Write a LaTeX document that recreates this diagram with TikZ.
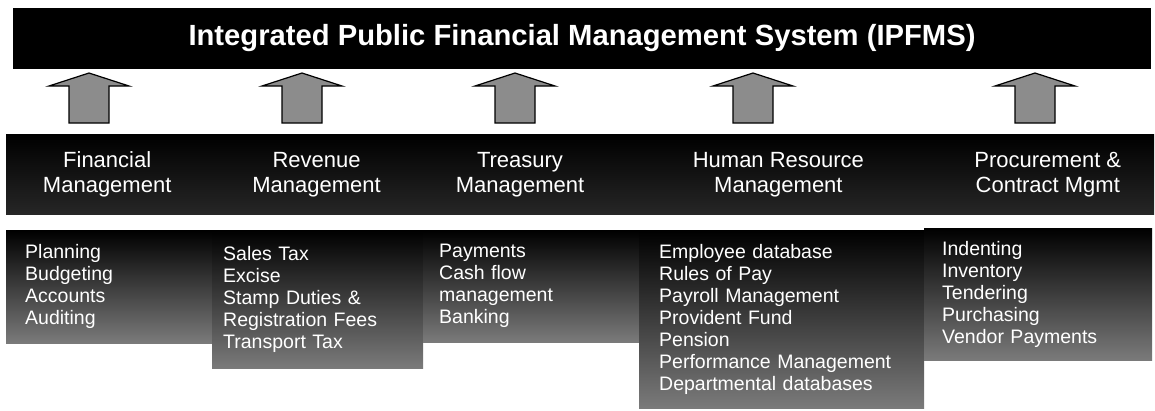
\documentclass[tikz,border=0pt]{standalone}
\usepackage{fontspec}
\setmainfont{Liberation Sans}
\usetikzlibrary{positioning,backgrounds}
\tikzset{
  titlebar/.style={rectangle, fill=black, text=white, inner sep=0pt,
                   font=\bfseries\fontsize{29.2bp}{32bp}\selectfont},
  catbox/.style={rectangle, text=white, align=center, minimum height=79bp, inner sep=0pt,
                 font=\fontsize{22bp}{25bp}\selectfont},
  band/.style={top color=black, bottom color=black!85},
  listbox/.style={rectangle, top color=black, bottom color=black!52, text=white,
                  align=left, anchor=north west, inner sep=0pt,
                  font=\fontsize{19.5bp}{22bp}\selectfont},
  uparrow/.style={draw=black, line width=1.2bp, fill=black!45, line join=miter}
}

\begin{document}
\begin{tikzpicture}[x=1bp,y=-1bp]
\useasboundingbox (0,0) rectangle (1155,410);
\node[titlebar, minimum width=1138bp, minimum height=61bp] (ipfms) at (582,38.5)
  {Integrated Public Financial Management System (IPFMS)};

\node[catbox, minimum width=202bp, anchor=west] (fin) at (6,174.5) {Financial\\Management};
\node[catbox, minimum width=216bp, right=0pt of fin] (rev) {Revenue\\Management};
\node[catbox, minimum width=190bp, right=0pt of rev] (tre) {Treasury\\Management};
\node[catbox, minimum width=326bp, right=0pt of tre] (hrm) {Human Resource\\Management};
\node[catbox, minimum width=212bp, right=0pt of hrm] (pcm) {Procurement \&\\Contract Mgmt};
\begin{scope}[on background layer]
  \path[band] (fin.north west) rectangle (pcm.south east);
\end{scope}

\foreach \x/\n in {89/fin,302/rev,515/tre,753/hrm,1035/pcm}
  \draw[uparrow] (\x,123) coordinate (arr-\n) ++(-20,0) -- ++(40,0) -- ++(0,-37) -- ++(20,0)
    -- ++(-40,-13) -- ++(-40,13) -- ++(20,0) -- cycle;

\node[listbox, minimum width=206bp, minimum height=113bp, text width=168bp] (fin-list) at (6,230)
  {Planning\\Budgeting\\Accounts\\Auditing};
\node[listbox, minimum width=211bp, minimum height=138bp, text width=189bp] (rev-list) at (212,230)
  {Sales Tax\\Excise\\Stamp Duties \&\\Registration Fees\\Transport Tax};
\node[listbox, minimum width=216bp, minimum height=112bp, text width=184bp] (tre-list) at (423,230)
  {Payments\\Cash flow\\management\\Banking};
\node[listbox, minimum width=285bp, minimum height=178bp, text width=245bp] (hrm-list) at (639,230)
  {Employee database\\Rules of Pay\\Payroll Management\\Provident Fund\\Pension\\Performance Management\\Departmental databases};
\node[listbox, minimum width=228bp, minimum height=132bp, text width=192bp] (pcm-list) at (924,228)
  {Indenting\\Inventory\\Tendering\\Purchasing\\Vendor Payments};
\end{tikzpicture}
\end{document}
